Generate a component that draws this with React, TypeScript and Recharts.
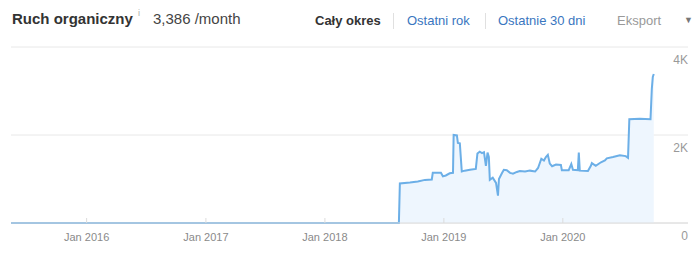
import React from 'react';
import { AreaChart, Area, XAxis, YAxis, CartesianGrid } from 'recharts';

const dates = [
  '2015-05-14', '2018-08-16', '2018-08-19', '2018-09-19', '2018-10-13', '2018-11-04',
  '2018-11-25', '2018-11-28', '2018-12-23', '2018-12-29', '2019-01-07', '2019-01-19',
  '2019-01-29', '2019-01-31', '2019-02-10', '2019-02-13', '2019-02-19', '2019-02-25',
  '2019-03-06', '2019-03-22', '2019-04-09', '2019-04-14', '2019-04-21', '2019-04-28',
  '2019-05-04', '2019-05-10', '2019-05-15', '2019-05-19', '2019-05-22', '2019-05-31',
  '2019-06-10', '2019-06-16', '2019-06-19', '2019-06-28', '2019-07-04', '2019-07-13',
  '2019-07-23', '2019-08-01', '2019-08-13', '2019-08-22', '2019-09-07', '2019-09-22',
  '2019-10-08', '2019-10-17', '2019-10-27', '2019-11-04', '2019-11-10', '2019-11-16',
  '2019-11-22', '2019-11-29', '2019-12-11', '2019-12-26', '2019-12-29', '2020-01-19',
  '2020-01-27', '2020-02-01', '2020-02-16', '2020-02-19', '2020-02-22', '2020-03-18',
  '2020-03-27', '2020-03-30', '2020-04-11', '2020-04-27', '2020-05-09', '2020-05-15',
  '2020-06-03', '2020-06-24', '2020-07-12', '2020-07-19', '2020-07-23', '2020-08-24',
  '2020-09-26', '2020-09-30', '2020-10-03', '2020-10-06',
];
const traffic = [
  0, 0, 900, 920, 945, 980,
  990, 1140, 1140, 1060, 1080, 1130,
  1140, 2000, 1990, 1820, 1810, 1170,
  1190, 1210, 1230, 1580, 1620, 1590,
  1610, 1300, 1600, 1500, 980, 1030,
  910, 620, 1000, 1130, 1210, 1200,
  1140, 1120, 1160, 1180, 1170, 1190,
  1170, 1250, 1460, 1420, 1500, 1550,
  1350, 1290, 1330, 1320, 1200, 1200,
  1340, 1210, 1200, 1600, 1190, 1180,
  1300, 1360, 1300, 1380, 1420, 1470,
  1500, 1540, 1520, 1480, 2360, 2370,
  2360, 3050, 3320, 3386,
];
const xTickDates = ['2016-01-01', '2017-01-01', '2018-01-01', '2019-01-01', '2020-01-01'];
const xTickLabels = ['Jan 2016', 'Jan 2017', 'Jan 2018', 'Jan 2019', 'Jan 2020'];
const yTicks = [0, 2000, 4000];
const yTickLabels = ['0', '2K', '4K'];
const xDomain = ['2015-05-14', '2021-01-19'];

const data = dates.map((d, i) => ({ t: Date.parse(d), v: traffic[i] }));
const xTicks = xTickDates.map((d) => Date.parse(d));

const FONT = '"Liberation Sans", Arial, sans-serif';

const XTick = (props: any) => {
  const { x, y, payload } = props;
  const idx = xTicks.indexOf(payload.value);
  return (
    <g>
      <line x1={x} x2={x} y1={y - 5} y2={y} stroke="#dcdcdc" strokeWidth={1} />
      <text x={x} y={y + 18} textAnchor="middle" fill="#8a8a8a" fontSize={11} fontFamily={FONT}>
        {idx >= 0 ? xTickLabels[idx] : ''}
      </text>
    </g>
  );
};

const YTick = (props: any) => {
  const { x, y, payload } = props;
  const idx = yTicks.indexOf(payload.value);
  return (
    <text x={x} y={y + 17} textAnchor="end" fill="#999" fontSize={12} fontFamily={FONT}>
      {idx >= 0 ? yTickLabels[idx] : ''}
    </text>
  );
};

const abs = (left: number, top: number, extra: React.CSSProperties = {}): React.CSSProperties => ({
  position: 'absolute',
  left,
  top,
  whiteSpace: 'nowrap',
  fontFamily: FONT,
  ...extra,
});

export default function App() {
  return (
    <div style={{ position: 'absolute', left: 0, top: 0, width: 700, height: 254, background: '#fff' }}>
      <div style={abs(12, 9, { fontSize: 15, lineHeight: '20px', fontWeight: 'bold', color: '#333' })}>Ruch organiczny</div>
      <div style={abs(138, 7, { fontSize: 9, lineHeight: '12px', color: '#aaa' })}>i</div>
      <div style={abs(153, 9, { fontSize: 15, lineHeight: '20px', color: '#444' })}>3,386 /month</div>
      <div style={abs(315, 12, { fontSize: 13, lineHeight: '18px', fontWeight: 'bold', color: '#333' })}>Cały okres</div>
      <div style={abs(393, 13, { width: 1, height: 16, background: '#e0e0e0' })} />
      <div style={abs(407, 12, { fontSize: 13, lineHeight: '18px', color: '#3a76c0' })}>Ostatni rok</div>
      <div style={abs(485, 13, { width: 1, height: 16, background: '#e0e0e0' })} />
      <div style={abs(498, 12, { fontSize: 13, lineHeight: '18px', color: '#3a76c0' })}>Ostatnie 30 dni</div>
      <div style={abs(617, 12, { fontSize: 13, lineHeight: '18px', color: '#999' })}>Eksport</div>
      <div style={abs(684, 14, { fontSize: 9, lineHeight: '12px', color: '#777' })}>▼</div>
      <div style={{ position: 'absolute', left: 0, top: 0 }}>
        <AreaChart width={700} height={254} data={data} margin={{ top: 47, right: 0, bottom: 0, left: 11 }}>
          <CartesianGrid vertical={false} stroke="#e8e8e8" />
          <XAxis
            dataKey="t"
            type="number"
            scale="time"
            domain={xDomain.map((d) => Date.parse(d))}
            ticks={xTicks}
            tick={<XTick />}
            tickSize={0}
            tickMargin={0}
            tickLine={false}
            axisLine={{ stroke: '#dcdcdc' }}
            height={31}
            allowDataOverflow
          />
          <YAxis
            orientation="right"
            width={12}
            domain={[0, 4000]}
            ticks={yTicks}
            tick={<YTick />}
            tickSize={0}
            tickMargin={0}
            tickLine={false}
            axisLine={false}
            interval={0}
          />
          <Area
            type="linear"
            dataKey="v"
            stroke="#6cafe7"
            strokeWidth={2}
            fill="#eef6fe"
            fillOpacity={1}
            dot={false}
            activeDot={false}
            isAnimationActive={false}
          />
        </AreaChart>
      </div>
    </div>
  );
}
